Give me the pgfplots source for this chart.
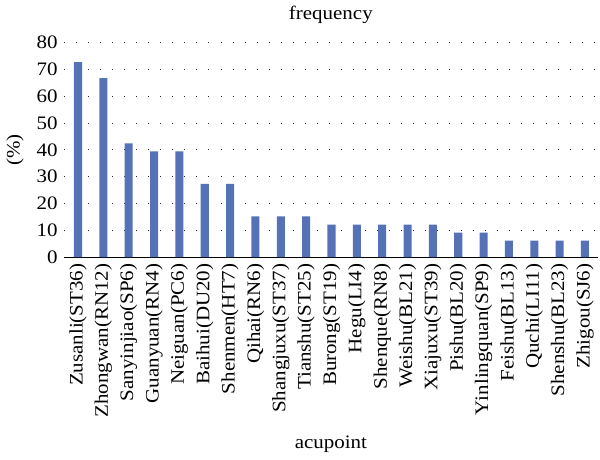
\documentclass[border=0pt]{standalone}
\usepackage{fontspec}
\setmainfont{Liberation Serif}[FakeStretch=1.1]
\usepackage{pgfplots}
\pgfplotsset{compat=1.18}
\definecolor{barblue}{HTML}{5472B5}

\begin{document}
\fontsize{19}{22}\selectfont
\begin{tikzpicture}
\begin{axis}[
    scale only axis,
    width=532pt, height=214pt,
    ymin=0, ymax=80,
    ytick={0,10,...,80},
    xmin=-0.55, xmax=20.5,
    xtick=data,
    xticklabels={Zusanli(ST36),Zhongwan(RN12),Sanyinjiao(SP6),Guanyuan(RN4),Neiguan(PC6),Baihui(DU20),Shenmen(HT7),Qihai(RN6),Shangjuxu(ST37),Tianshu(ST25),Burong(ST19),Hegu(LI4),Shenque(RN8),Weishu(BL21),Xiajuxu(ST39),Pishu(BL20),Yinlingquan(SP9),Feishu(BL13),Quchi(LI11),Shenshu(BL23),Zhigou(SJ6)},
    xticklabel style={rotate=90, anchor=east, font=\fontsize{19}{22}\selectfont},
    yticklabel style={font=\fontsize{19}{22}\selectfont},
    /pgf/number format/assume math mode=true,
    major tick length=0pt,
    axis x line*=bottom,
    axis y line*=left,
    y axis line style={draw=none},
    x axis line style={-, black, line width=0.9pt},
    ymajorgrids,
    grid style={black!85, line width=0.9pt, dash pattern=on 0.9pt off 11.1pt},
    title={frequency},
    title style={font=\fontsize{19}{22}\selectfont, yshift=6pt},
    xlabel={acupoint},
    xlabel style={font=\fontsize{19}{22}\selectfont, yshift=-6pt},
    ylabel={(\%)},
    ylabel style={font=\fontsize{19}{22}\selectfont},
]
\addplot[ybar, bar width=8pt, fill=barblue, draw=none] coordinates {
    (0,72.7) (1,66.7) (2,42.4) (3,39.4) (4,39.4) (5,27.3) (6,27.3)
    (7,15.2) (8,15.2) (9,15.2) (10,12.1) (11,12.1) (12,12.1) (13,12.1)
    (14,12.1) (15,9.1) (16,9.1) (17,6.1) (18,6.1) (19,6.1) (20,6.1)
};
\end{axis}
\end{tikzpicture}
\end{document}
